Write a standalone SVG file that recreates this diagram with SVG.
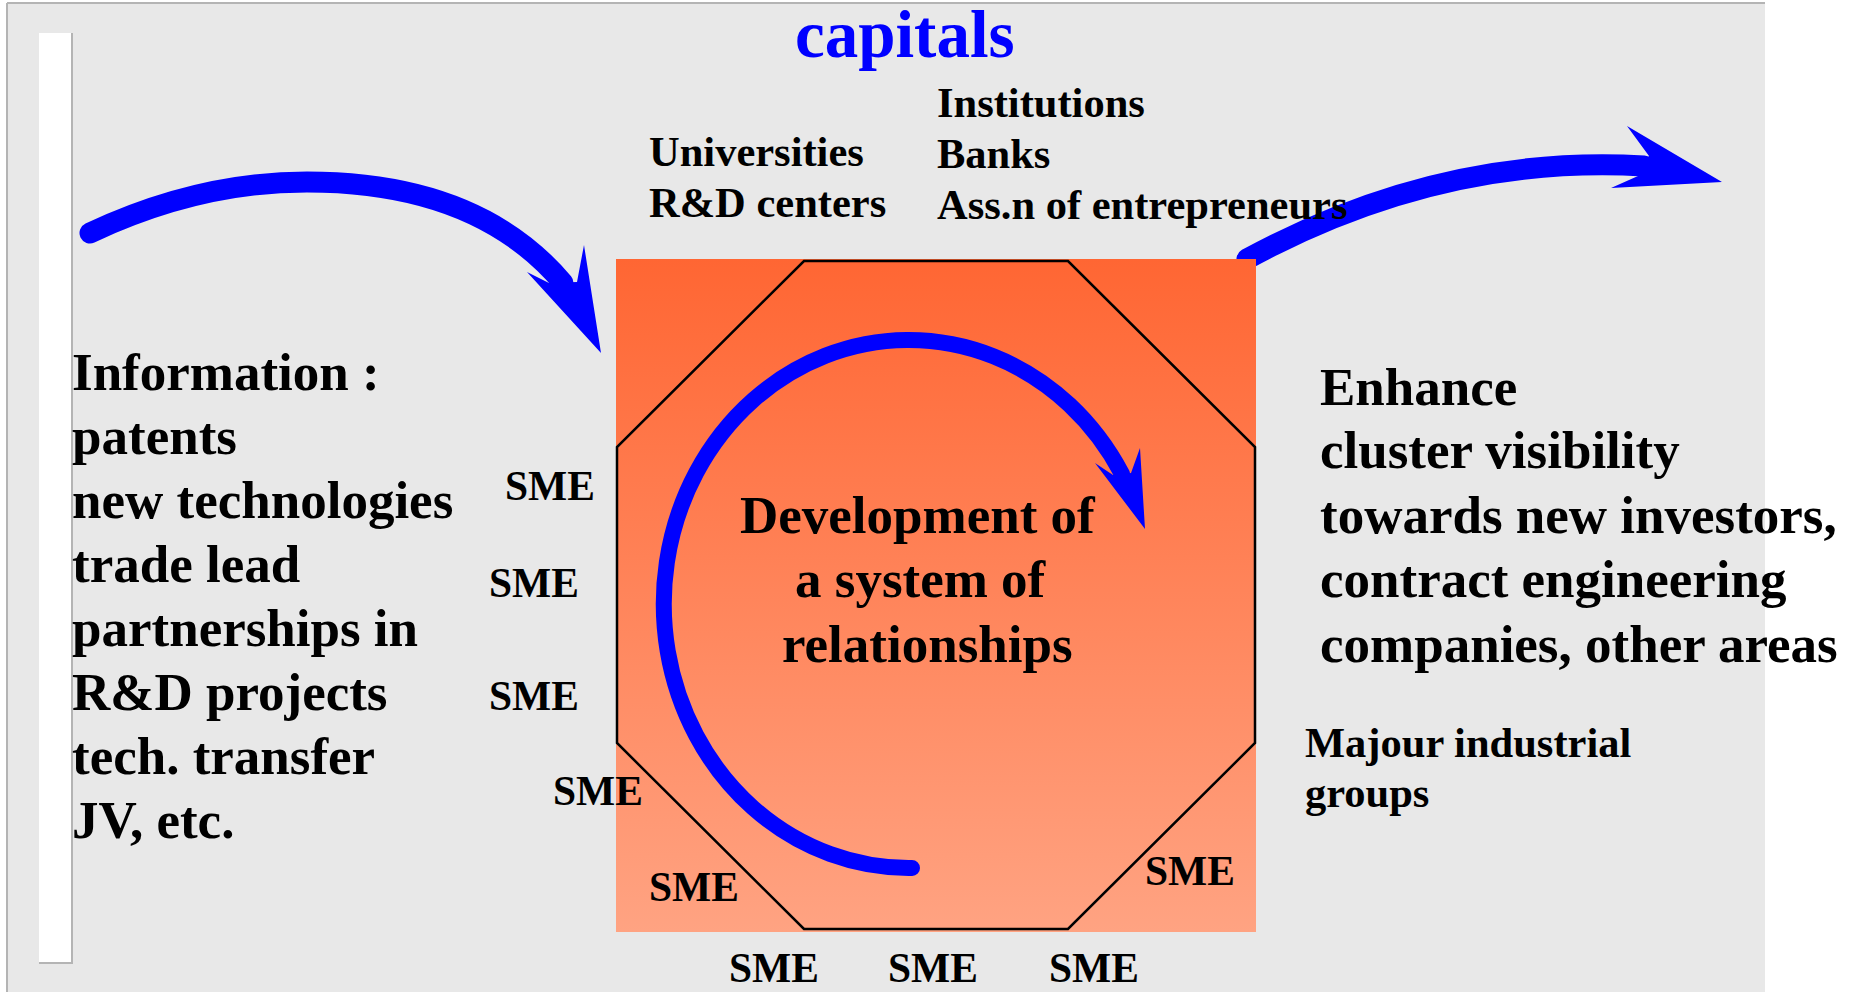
<svg xmlns="http://www.w3.org/2000/svg" width="1855" height="992" viewBox="0 0 1855 992">
  <style>
    .t { font-family: 'Liberation Serif', 'Times New Roman', serif; font-weight: bold; fill: #000; }
    .big { font-size: 53px; }
    .mid { font-size: 42.5px; }
    .sme { font-size: 41.5px; }
    .title { font-size: 67px; fill: #0000ff; }
    .shaft { fill: none; stroke: #0000ff; stroke-linecap: round; }
    .head { fill: #0000ff; stroke: none; }
  </style>
  <defs>
    <linearGradient id="orangeGrad" x1="0" y1="0" x2="0" y2="1">
      <stop offset="0" stop-color="#ff6633"/>
      <stop offset="1" stop-color="#ffa382"/>
    </linearGradient>
    <clipPath id="outsideRect">
      <path clip-rule="evenodd" d="M0,0H1855V992H0Z M616,259V932H1256V259Z"/>
    </clipPath>
  </defs>

  <!-- page background -->
  <g id="background">
    <rect x="0" y="0" width="1855" height="992" fill="#ffffff"/>
    <rect x="7" y="3" width="1758" height="995" fill="#e8e8e8"/>
    <line x1="7" y1="3" x2="1765" y2="3" stroke="#b4b4b4" stroke-width="2"/>
    <line x1="7" y1="3" x2="7" y2="992" stroke="#b4b4b4" stroke-width="2"/>
    <rect x="39" y="33" width="33" height="930" fill="#ffffff"/>
    <line x1="72" y1="33" x2="72" y2="963" stroke="#b4b4b4" stroke-width="2"/>
    <line x1="39" y1="963" x2="73" y2="963" stroke="#b4b4b4" stroke-width="2"/>
  </g>

  <!-- central cluster node -->
  <g id="cluster">
    <rect x="616" y="259" width="640" height="673" fill="url(#orangeGrad)"/>
    <polygon points="804,261 1068,261 1255,447 1255,743 1068,929 804,929 617,743 617,447" fill="none" stroke="#000" stroke-width="2.5"/>
  </g>

  <!-- connectors -->
  <g id="connectors">
    <g id="arrow-in">
      <path class="shaft" stroke-width="21" d="M90,233 C160,200 230,182 307,182 C428,182 510,220 563,283"/>
      <polygon class="head" points="527,272 601,353 584,245 577,282 549,283"/>
    </g>
    <g id="arrow-out" clip-path="url(#outsideRect)">
      <path class="shaft" stroke-width="21" d="M1247,259 Q1440,154 1644,166"/>
      <polygon class="head" points="1627,126 1722,182 1611,188 1638,176 1649,156"/>
    </g>
    <g id="arrow-cycle">
      <path class="shaft" stroke-width="16" d="M912,868 A245,264 0 1 1 1122,474"/>
      <polygon class="head" points="1095,463 1145,529 1140,448 1131,473 1113,475"/>
    </g>
  </g>

  <g id="title">
    <text class="t title" x="795" y="57">capitals</text>
  </g>

  <g id="universities">
    <text class="t mid" x="649" y="166">Universities</text>
    <text class="t mid" x="649" y="217">R&amp;D centers</text>
  </g>

  <g id="institutions">
    <text class="t mid" x="937" y="117">Institutions</text>
    <text class="t mid" x="937" y="168">Banks</text>
    <text class="t mid" x="937" y="219">Ass.n of entrepreneurs</text>
  </g>

  <g id="information">
    <text class="t big" x="72" y="390">Information :</text>
    <text class="t big" x="72" y="454">patents</text>
    <text class="t big" x="72" y="518">new technologies</text>
    <text class="t big" x="72" y="582">trade lead</text>
    <text class="t big" x="72" y="646">partnerships in</text>
    <text class="t big" x="72" y="710">R&amp;D projects</text>
    <text class="t big" x="72" y="774">tech. transfer</text>
    <text class="t big" x="72" y="838">JV, etc.</text>
  </g>

  <g id="development">
    <text class="t big" x="740" y="533">Development of</text>
    <text class="t big" x="795" y="597">a system of</text>
    <text class="t big" x="782" y="662">relationships</text>
  </g>

  <g id="enhance">
    <text class="t big" x="1320" y="405">Enhance</text>
    <text class="t big" x="1320" y="468">cluster visibility</text>
    <text class="t big" x="1320" y="533">towards new investors,</text>
    <text class="t big" x="1320" y="597">contract engineering</text>
    <text class="t big" x="1320" y="662">companies, other areas</text>
  </g>

  <g id="industrial-groups">
    <text class="t mid" x="1305" y="757">Majour industrial</text>
    <text class="t mid" x="1305" y="807">groups</text>
  </g>

  <g id="smes">
    <text class="t sme" x="505" y="500">SME</text>
    <text class="t sme" x="489" y="597">SME</text>
    <text class="t sme" x="489" y="710">SME</text>
    <text class="t sme" x="553" y="805">SME</text>
    <text class="t sme" x="649" y="901">SME</text>
    <text class="t sme" x="729" y="982">SME</text>
    <text class="t sme" x="888" y="982">SME</text>
    <text class="t sme" x="1049" y="982">SME</text>
    <text class="t sme" x="1145" y="885">SME</text>
  </g>
</svg>
